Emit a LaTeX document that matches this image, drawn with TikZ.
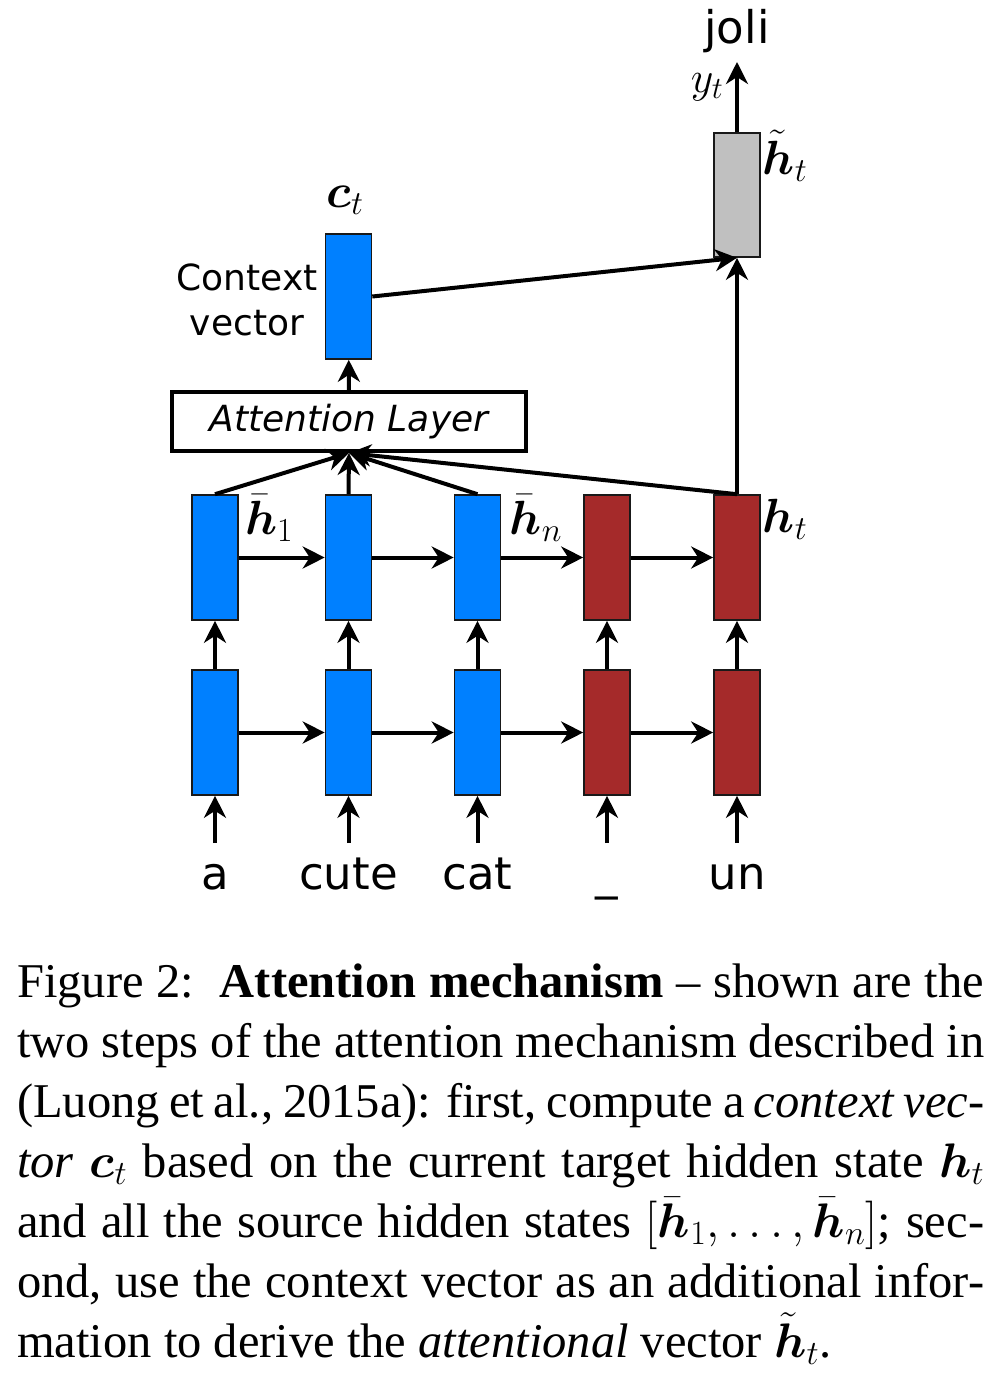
\RequirePackage{fix-cm}
\documentclass[tikz,border=0pt]{standalone}
\usepackage{amsmath,bm}
\usepackage{fontspec}
\setmainfont{Liberation Serif}
\newfontfamily\dejavu{DejaVu Sans}
\usetikzlibrary{arrows.meta}
\definecolor{encblue}{RGB}{0,128,255}
\definecolor{decred}{RGB}{165,42,42}
\definecolor{attgray}{RGB}{192,192,192}
\begin{document}
\begin{tikzpicture}[x=1pt,y=-1pt,
  cell/.style={draw=black!90, line width=1.6pt, minimum width=46pt, minimum height=125pt, inner sep=0pt},
  enc/.style={cell, fill=encblue},
  dec/.style={cell, fill=decred},
  arr/.style={line width=4pt, -{Stealth[length=22pt,width=22pt,inset=7pt]}},
  word/.style={font=\dejavu\fontsize{45}{54}\selectfont, anchor=base, inner sep=0pt},
  lbl/.style={font=\fontsize{48}{56}\selectfont, inner sep=0pt},
  sidetext/.style={font=\dejavu\fontsize{36}{45}\selectfont, align=center, inner sep=0pt}]
\useasboundingbox (0,0) rectangle (992,1400);
% upper row
\node[enc] (u1) at (215,557.5) {};
\node[enc] (u2) at (348.5,557.5) {};
\node[enc] (u3) at (477.5,557.5) {};
\node[dec] (u4) at (607,557.5) {};
\node[dec] (u5) at (737,557.5) {};
% lower row
\node[enc] (l1) at (215,732.5) {};
\node[enc] (l2) at (348.5,732.5) {};
\node[enc] (l3) at (477.5,732.5) {};
\node[dec] (l4) at (607,732.5) {};
\node[dec] (l5) at (737,732.5) {};
% inputs
\coordinate (i1) at (215,843);
\coordinate (i2) at (348.5,843);
\coordinate (i3) at (477.5,843);
\coordinate (i4) at (607,843);
\coordinate (i5) at (737,843);
\node[word] (w1) at (215,889) {a};
\node[word] (w2) at (348.5,889) {cute};
\node[word] (w3) at (477.5,889) {cat};
\node[word] (w4) at (607,889) {\_};
\node[word] (w5) at (737,889) {un};
% attention layer
\node[draw, line width=4pt, minimum width=354pt, minimum height=59pt, inner sep=0pt,
      font=\dejavu\itshape\fontsize{36}{45}\selectfont] (att) at (349,421.5) {Attention Layer};
% context vector
\node[enc] (ctx) at (348.5,296.5) {};
\node[sidetext] (ctxtxt) at (247,300) {Context\\vector};
\node[lbl] (ctlbl) at (345,200) {$\bm{c}_t$};
% attentional vector
\node[cell, fill=attgray, minimum height=124pt] (ht) at (737,195) {};
\node[lbl] (htlbl) at (785,156) {$\bm{\tilde{h}}_t$};
\coordinate (out) at (737,62);
\node[word] (joli) at (737,43) {joli};
\node[font=\fontsize{44}{52}\selectfont, inner sep=0pt] (ytlbl) at (707,87) {$y_t$};
% state labels
\node[lbl] (h1lbl) at (269,518) {$\bm{\bar{h}}_1$};
\node[lbl] (hnlbl) at (536,518) {$\bm{\bar{h}}_n$};
\node[lbl] (htl) at (785,519) {$\bm{h}_t$};
% horizontal recurrences
\foreach \r in {u,l}{
  \draw[arr] (\r1) -- (\r2);
  \draw[arr] (\r2) -- (\r3);
  \draw[arr] (\r3) -- (\r4);
  \draw[arr] (\r4) -- (\r5);
}
% vertical
\foreach \k in {1,...,5}{
  \draw[arr] (i\k) -- (l\k);
  \draw[arr] (l\k) -- (u\k);
}
% attention inputs
\draw[arr] (u1.north) -- (att.south);
\draw[arr] (u2.north) -- (att.south);
\draw[arr] (u3.north) -- (att.south);
\draw[arr] (u5.north) -- (att.south);
\draw[arr] (att) -- (ctx);
\draw[arr] (u5.north) -- (ht.south);
\draw[arr] (ctx.east) -- (ht.south);
\draw[arr] (ht) -- (out);
% caption
\node[anchor=base west, inner sep=0pt] (cap) at (17,997) {\parbox[t]{967pt}{%
\fontsize{48.5}{60}\selectfont\parindent=0pt\hyphenpenalty=10000\tolerance=10000
Figure 2:\ \ \textbf{Attention mechanism} -- shown are the\linebreak
two steps of the attention mechanism described in\linebreak
(Luong et al., 2015a): first, compute a \textit{context vec-}\linebreak
\textit{tor} $\bm{c}_t$ based on the current target hidden state $\bm{h}_t$\linebreak
and all the source hidden states $[\bm{\bar{h}}_1,\ldots,\bm{\bar{h}}_n]$; sec-\linebreak
ond, use the context vector as an additional infor-\linebreak
mation to derive the \textit{attentional} vector $\bm{\tilde{h}}_t$.\par}};
\end{tikzpicture}
\end{document}
